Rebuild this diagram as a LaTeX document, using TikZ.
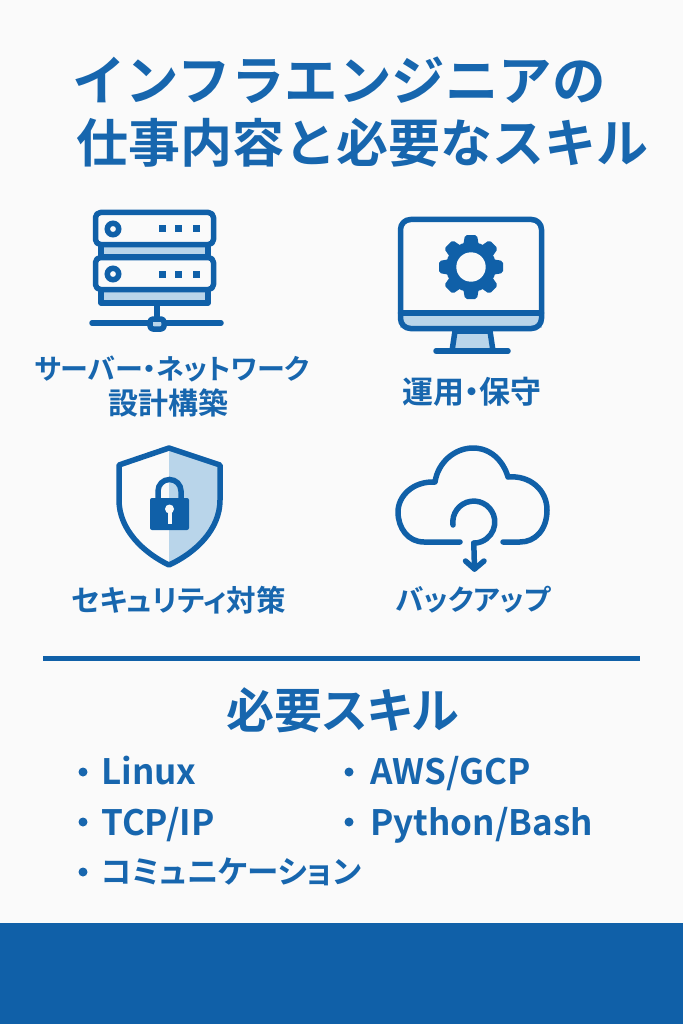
\documentclass[tikz,border=0pt]{standalone}
\usepackage{fontspec}
\setmainfont{Noto Sans CJK JP}[BoldFont={* Bold}]
\newfontfamily\palfont{Noto Sans CJK JP Bold}[RawFeature=+palt]
\definecolor{bluemain}{HTML}{1060A8}
\definecolor{bluetext}{HTML}{1766AE}
\definecolor{bluelight}{HTML}{B9D5EA}
\definecolor{paper}{HTML}{FAFAFA}
\tikzset{
	titletext/.style={anchor=west,text=bluetext,font=\fontsize{52}{52}\selectfont\bfseries,inner sep=0pt},
	labeltext/.style={text=bluetext,font=\fontsize{30}{30}\selectfont\palfont,inner sep=0pt},
	skilltext/.style={anchor=base west,text=bluetext,font=\fontsize{35}{35}\selectfont\palfont,inner sep=0pt},
	dot/.style={circle,fill=bluetext,minimum size=9pt,inner sep=0pt},
	icon/.style={draw=bluemain,line width=5.5pt,line join=round,line cap=round},
}
\begin{document}
\begin{tikzpicture}[x=1pt,y=-1pt]
		\fill [paper] (0,0) rectangle (683,1024);
		\useasboundingbox (0,0) rectangle (683,1024);
		\fill [bluemain] (0,923) rectangle (683,1024);
		\node [titletext,font=\fontsize{53.5}{53.5}\selectfont\bfseries] (title1) at (72,80) {インフラエンジニアの};
		\node [titletext] (title2) at (76,143) {仕事内容と必要なスキル};

		% server
		\foreach \y in {243,289}{
			\draw [icon,fill=bluelight] (101,\y) rectangle (208,\y+14);
		}
		\foreach \y in {212.5,257.5}{
			\draw [icon,fill=paper,rounded corners=5pt] (95.5,\y) rectangle (213.5,\y+32);
			\draw [bluemain,line width=5.5pt,fill=paper] (113,\y+16.5) circle (5.7);
			\foreach \x in {162,178,196}{
				\fill [bluemain] (\x-3.5,\y+13) rectangle (\x+3.5,\y+20);
			}
		}
		\coordinate (stem) at (157,305);
		\coordinate (hub) at (157,324);
		\draw [icon] (stem) -- (hub);
		\draw [icon] (92,323) -- (221,323);
		\draw [icon,fill=bluelight,rounded corners=3pt] (150,319) rectangle (164,329);
		\node [labeltext,font=\fontsize{28}{28}\selectfont\palfont] (l1) at (172,369) {サーバー・ネットワーク};
		\node [labeltext] (l1b) at (168,403) {設計構築};

		% monitor
		\fill [bluelight] (400,313) rectangle (542,328);
		\draw [icon,fill=bluelight] (455,331) -- (452,351) -- (493,351) -- (490,331) -- cycle;
		\draw [icon,rounded corners=10pt] (400.5,219.5) rectangle (541.5,328.5);
		\draw [icon] (400.5,313) -- (541.5,313);
		\draw [icon] (436,351) -- (508,351);
		\foreach \a in {0,45,...,315}{
			\fill [bluemain,rounded corners=2pt,rotate around={\a:(471,267)}] (462,252) -- (465,235) -- (477,235) -- (480,252) -- cycle;
		}
		\fill [bluemain] (471,267) circle (25);
		\fill [paper] (471,267) circle (14.7);
		\node [labeltext,font=\fontsize{31}{31}\selectfont\palfont] (l2) at (472,392) {運用・保守};

		% shield
		\fill [bluelight] (169,448) -- (220,465) -- (220,500) .. controls (220,530) and (195,553) .. (169,565) -- cycle;
		\draw [icon,fill=none] (169,448) -- (119,465) -- (119,500) .. controls (119,530) and (144,553) .. (169,565) .. controls (195,553) and (220,530) .. (220,500) -- (220,465) -- cycle;
		\draw [bluemain,line width=5.5pt] (158,500) -- (158,491) arc (180:360:11.5) -- (181,500);
		\fill [bluemain,rounded corners=2pt] (150,498) rectangle (189,530);
		\fill [paper] (169.5,509) circle (4.5);
		\fill [paper] (167.5,510) rectangle (171.5,524);
		\node [labeltext,font=\fontsize{29.5}{29.5}\selectfont\palfont] (l3) at (178.5,600) {セキュリティ対策};

		% cloud
		\draw [icon] (460,542) -- (424,542) .. controls (408,542) and (398,528) .. (398,512) .. controls (398,496) and (413,481) .. (435,482) .. controls (438,462) and (455,448) .. (473,448) .. controls (490,448) and (503,460) .. (508,477) .. controls (530,475) and (547,490) .. (547,510) .. controls (547,530) and (535,542) .. (520,542) -- (503,542);
		\draw [icon] (453,525) arc (172:450:21) coordinate (tail);
		\coordinate (tip) at (474.5,569);
		\draw [icon] (tail) -- (tip);
		\draw [icon] (465.5,561) -- (tip) -- (484,561);
		\node [labeltext,font=\fontsize{28.5}{28.5}\selectfont\palfont] (l4) at (473,600) {バックアップ};

		% skills
		\draw [bluemain,line width=5pt] (43,658) -- (640,658);
		\node [text=bluetext,font=\fontsize{48}{48}\selectfont\palfont,inner sep=0pt] (skills) at (342.5,710) {必要スキル};
		\node [dot] (b1) at (83,772) {};
		\node [dot] (b2) at (83,822) {};
		\node [dot] (b3) at (83,872) {};
		\node [dot] (b4) at (349,772) {};
		\node [dot] (b5) at (349,822) {};
		\node [skilltext] (s1) at (101,784) {Linux};
		\node [skilltext] (s2) at (101,835) {TCP/IP};
		\node [skilltext,anchor=west,font=\fontsize{31.5}{31.5}\selectfont\palfont] (s3) at (101,872) {コミュニケーション};
		\node [skilltext] (s4) at (370,784) {AWS/GCP};
		\node [skilltext] (s5) at (370,835) {Python/Bash};
	\end{tikzpicture}
\end{document}
